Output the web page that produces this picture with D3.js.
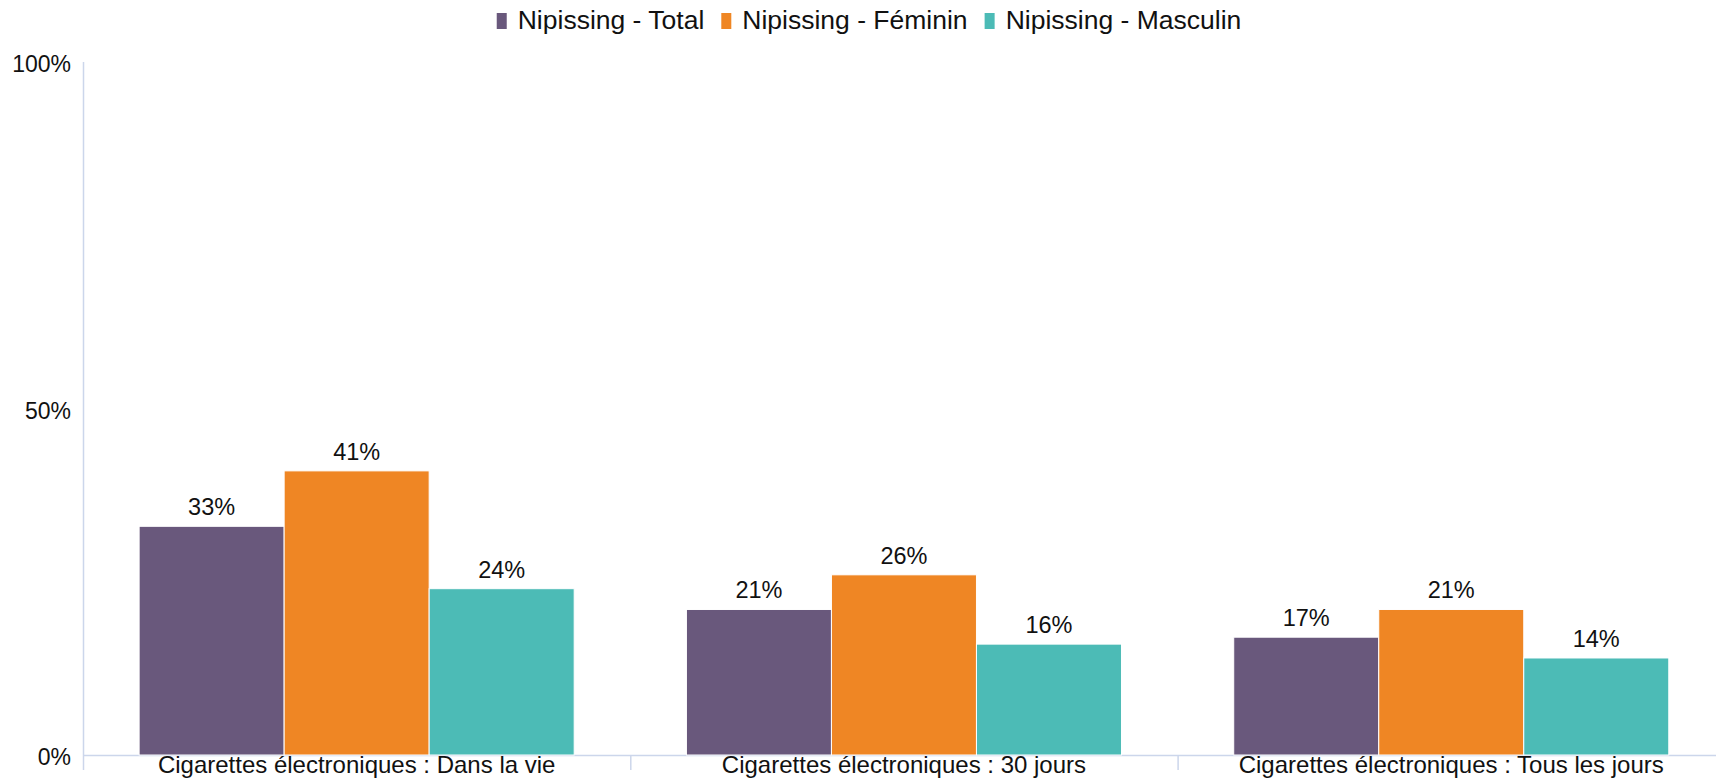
<!DOCTYPE html>
<html>
<head>
<meta charset="utf-8">
<script src="https://cdn.jsdelivr.net/npm/d3@7"></script>
<style>
  body { margin: 0; background: #fff; }
  svg { display: block; font-family: 'Liberation Sans', Arial, sans-serif; }
  text { fill: #111; }
</style>
</head>
<body>
<svg id="chart" width="1716" height="780"></svg>
<script>
let categories = [
  'Cigarettes électroniques : Dans la vie',
  'Cigarettes électroniques : 30 jours',
  'Cigarettes électroniques : Tous les jours'
]
let seriesNames = ['Nipissing - Total', 'Nipissing - Féminin', 'Nipissing - Masculin']
let seriesColors = ['#69587c', '#ef8624', '#4cbbb6']
let total = [33, 21, 17]
let feminin = [41, 26, 21]
let masculin = [24, 16, 14]
let yTicks = [0, 50, 100]

let series = [total, feminin, masculin]

let svg = d3.select('#chart')
let margin = { top: 62, left: 83, bottom: 755 }
let step = 547.3

let x = d3.scaleBand()
  .domain(categories)
  .range([margin.left, margin.left + step * categories.length])
  .paddingInner(0)
  .paddingOuter(0)

let xInner = d3.scaleBand()
  .domain(seriesNames)
  .range([0, x.bandwidth()])
  .paddingInner(0)
  .paddingOuter(0.387)

let y = d3.scaleLinear()
  .domain([0, 100])
  .range([margin.bottom, margin.top])

let axisColor = '#ccd6eb'

// y axis
svg.append('line')
  .attr('x1', margin.left + 0.5).attr('x2', margin.left + 0.5)
  .attr('y1', y(100)).attr('y2', y(0))
  .attr('stroke', axisColor)
  .attr('stroke-width', 1.5)

svg.append('g')
  .selectAll('text')
  .data(yTicks)
  .join('text')
  .attr('x', 71)
  .attr('y', d => y(d) + 10)
  .attr('text-anchor', 'end')
  .attr('font-size', 23)
  .text(d => d + '%')

// x axis
svg.append('line')
  .attr('x1', margin.left).attr('x2', 1716)
  .attr('y1', margin.bottom + 0.5).attr('y2', margin.bottom + 0.5)
  .attr('stroke', axisColor)
  .attr('stroke-width', 1.5)

svg.append('g')
  .selectAll('line')
  .data(categories)
  .join('line')
  .attr('x1', d => x(d) + 0.5)
  .attr('x2', d => x(d) + 0.5)
  .attr('y1', margin.bottom)
  .attr('y2', margin.bottom + 15)
  .attr('stroke', axisColor)
  .attr('stroke-width', 1.5)

svg.append('g')
  .selectAll('text')
  .data(categories)
  .join('text')
  .attr('x', d => x(d) + x.bandwidth() / 2)
  .attr('y', 773)
  .attr('text-anchor', 'middle')
  .attr('font-size', 24)
  .text(d => d)

// bars
let groups = svg.append('g')
  .selectAll('g')
  .data(series)
  .join('g')
  .attr('fill', (d, i) => seriesColors[i])

groups.selectAll('rect')
  .data((d, i) => d.map((v, j) => ({ v: v, cat: categories[j], name: seriesNames[i] })))
  .join('rect')
  .attr('x', d => x(d.cat) + xInner(d.name))
  .attr('y', d => y(d.v))
  .attr('width', xInner.bandwidth())
  .attr('height', d => y(0) - y(d.v))
  .attr('stroke', '#fff')
  .attr('stroke-width', 1)

groups.selectAll('text')
  .data((d, i) => d.map((v, j) => ({ v: v, cat: categories[j], name: seriesNames[i] })))
  .join('text')
  .attr('x', d => x(d.cat) + xInner(d.name) + xInner.bandwidth() / 2)
  .attr('y', d => y(d.v) - 11)
  .attr('text-anchor', 'middle')
  .attr('font-size', 23.5)
  .style('fill', '#111')
  .text(d => d.v + '%')

// legend
let legend = svg.append('g')
let items = legend.selectAll('g')
  .data(seriesNames)
  .join('g')

items.append('rect')
  .attr('x', 0)
  .attr('y', 13)
  .attr('width', 10)
  .attr('height', 16)
  .attr('fill', (d, i) => seriesColors[i])

items.append('text')
  .attr('x', 21)
  .attr('y', 29)
  .attr('font-size', 26.5)
  .text(d => d)

let next = 0
items.each(function() {
  let w = this.getBBox().width
  d3.select(this).attr('transform', 'translate(' + next + ',0)')
  next += w + 17
})
let legendWidth = next - 17
legend.attr('transform', 'translate(' + (869 - legendWidth / 2) + ',0)')
</script>
</body>
</html>
